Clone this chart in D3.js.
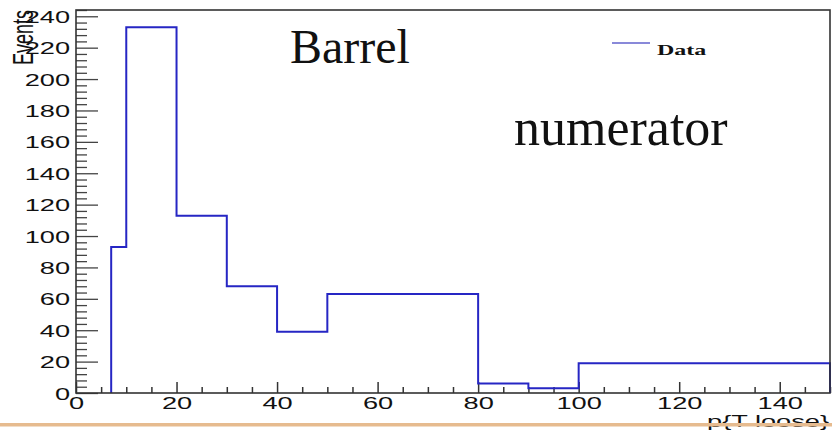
<!DOCTYPE html>
<html>
<head>
<meta charset="utf-8">
<script src="https://cdn.jsdelivr.net/npm/d3@7/dist/d3.min.js"></script>
<style>
  html, body { margin: 0; padding: 0; background: #fff; }
  svg { display: block; }
</style>
</head>
<body>
<svg id="chart" width="832" height="430"></svg>
<script>
// Histogram bin edges (pT, GeV) and counts per bin
const binEdges = [7, 10, 20, 30, 40, 50, 80, 90, 100, 150];
const binCounts = [93, 233, 113, 68, 39, 63, 6, 3, 19];

// Axis tick values and labels
const xMajorTicks = [0, 20, 40, 60, 80, 100, 120, 140];
const yMajorTicks = [0, 20, 40, 60, 80, 100, 120, 140, 160, 180, 200, 220, 240];

const xTitle = "p{T loose}";
const yTitle = "Events";
const legendLabel = "Data";
const title1 = "Barrel";
const title2 = "numerator";

const svg = d3.select("#chart");
const W = 832, H = 430;
const padL = 76, padR = 830, padT = 10, padB = 393;

const x = d3.scaleLinear().domain([0, 150]).range([padL, padR]);
const y = d3.scaleLinear().domain([0, 244]).range([padB, padT]);

const stretch = "scale(1.6,1)";
const tickFont = "'Liberation Sans', Arial, Helvetica, sans-serif";

// minor ticks
const xMinor = d3.range(0, 151, 5).filter(v => v % 20 !== 0);
const yMinor = d3.range(0, 245, 4).filter(v => v % 20 !== 0);

// Y axis (ticks pointing into the frame)
const gy = svg.append("g").attr("transform", `translate(${padL},0)`);
gy.append("g").call(d3.axisLeft(y).tickValues(yMinor).tickSize(-11).tickFormat(""));
gy.append("g").call(d3.axisLeft(y).tickValues(yMajorTicks).tickSize(-22).tickPadding(6));
gy.selectAll(".domain").remove();
gy.selectAll("line").attr("stroke", "#444").attr("stroke-width", 1.3);
gy.selectAll("text")
  .attr("x", null)
  .attr("dy", "0.36em")
  .attr("transform", "translate(-6,0) " + stretch)
  .attr("text-anchor", "end")
  .attr("font-family", tickFont)
  .attr("font-size", 17)
  .attr("fill", "#111");

// X axis (ticks pointing up into the frame)
const gx = svg.append("g").attr("transform", `translate(0,${padB})`);
gx.append("g").call(d3.axisBottom(x).tickValues(xMinor).tickSize(-6).tickFormat(""));
gx.append("g").call(d3.axisBottom(x).tickValues(xMajorTicks).tickSize(-11).tickPadding(4));
gx.selectAll(".domain").remove();
gx.selectAll("line").attr("stroke", "#333").attr("stroke-width", 1.5);
gx.selectAll("text")
  .attr("dy", "0.71em")
  .attr("transform", stretch)
  .attr("text-anchor", "middle")
  .attr("font-family", tickFont)
  .attr("font-size", 17)
  .attr("fill", "#111");

// Histogram outline as a step path
const pts = [[binEdges[0], 0]];
binCounts.forEach((c, i) => {
  pts.push([binEdges[i], c]);
  pts.push([binEdges[i + 1], c]);
});
pts.push([binEdges[binEdges.length - 1], 0]);

svg.append("path")
  .datum(pts)
  .attr("fill", "none")
  .attr("stroke", "#2626c4")
  .attr("stroke-width", 2)
  .attr("d", d3.line().x(d => x(d[0])).y(d => y(d[1])));

// Frame
svg.append("rect")
  .attr("x", padL).attr("y", padT)
  .attr("width", padR - padL).attr("height", padB - padT)
  .attr("fill", "none")
  .attr("stroke", "#333")
  .attr("stroke-width", 1.6);

// Axis titles
svg.append("text")
  .attr("transform", `translate(33,10) ${stretch} rotate(-90)`)
  .attr("text-anchor", "end")
  .attr("font-family", tickFont)
  .attr("font-size", 18)
  .attr("fill", "#111")
  .text(yTitle);

svg.append("text")
  .attr("transform", `translate(829,427) ${stretch}`)
  .attr("text-anchor", "end")
  .attr("font-family", tickFont)
  .attr("font-size", 17)
  .attr("fill", "#111")
  .text(xTitle);

// Legend
svg.append("line")
  .attr("x1", 612).attr("x2", 650).attr("y1", 43).attr("y2", 43)
  .attr("stroke", "#6262cc").attr("stroke-width", 1.5);
svg.append("text")
  .attr("transform", `translate(657,55) ${stretch}`)
  .attr("font-family", "'Liberation Serif', 'Times New Roman', serif")
  .attr("font-weight", "bold")
  .attr("font-size", 15)
  .attr("fill", "#111")
  .text(legendLabel);

// Large annotations
svg.append("text")
  .attr("x", 290).attr("y", 63)
  .attr("font-family", "'Liberation Serif', 'Times New Roman', serif")
  .attr("font-size", 48)
  .attr("fill", "#111")
  .text(title1);
svg.append("text")
  .attr("x", 514).attr("y", 145)
  .attr("font-family", "'Liberation Serif', 'Times New Roman', serif")
  .attr("font-size", 52)
  .attr("fill", "#111")
  .text(title2);

// Bottom accent band
svg.append("rect")
  .attr("x", 0).attr("y", 423).attr("width", W).attr("height", 3.5)
  .attr("fill", "#e6bb8f");
</script>
</body>
</html>
